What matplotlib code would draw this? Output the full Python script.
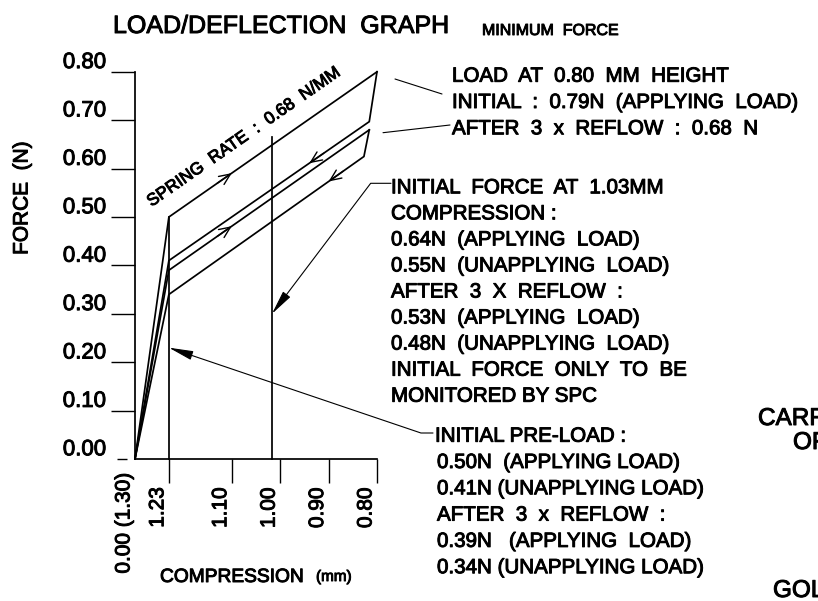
import numpy as np
import matplotlib.pyplot as plt
import matplotlib.patheffects as pe
from matplotlib.text import Text
from matplotlib.transforms import ScaledTranslation

plt.rcParams['font.family'] = ['Liberation Sans', 'DejaVu Sans']

W, H = 818, 601
PX = 484.0            # pixels per unit (mm or N), same on both axes
X0, Y0 = 135, 459     # pixel position of (1.30 mm, 0 N)

# axis ticks
force_ticks = [0.00, 0.10, 0.20, 0.30, 0.40, 0.50, 0.60, 0.70, 0.80]
comp_start = 1.30
comp_ticks = [1.23, 1.10, 1.00, 0.90, 0.80]

# load curves: compression (mm) vs force (N)
init_apply_x = [1.30, 1.23, 0.80]
init_apply_y = [0.00, 0.50, 0.80]
init_release_x = [0.80, 0.816, 1.23, 1.30]
init_release_y = [0.80, 0.697, 0.41, 0.00]
reflow_apply_x = [1.30, 1.23, 0.816]
reflow_apply_y = [0.00, 0.39, 0.68]
reflow_release_x = [0.816, 0.827, 1.23, 1.30]
reflow_release_y = [0.68, 0.625, 0.34, 0.00]

# reference verticals
preload_x, preload_top = 1.23, 0.50
check_x, check_top = 1.017, 0.665

# direction arrows: (curve, compression, travel)
arrow_marks = [
    ((init_apply_x, init_apply_y), 1.10, 'load'),
    ((init_release_x, init_release_y), 0.94, 'unload'),
    ((reflow_apply_x, reflow_apply_y), 1.10, 'load'),
    ((reflow_release_x, reflow_release_y), 0.90, 'unload'),
]

# leader targets
check_arrow_force = 0.30
preload_arrow_force = 0.23

block_load = ["LOAD  AT  0.80  MM  HEIGHT",
              "INITIAL  :  0.79N  (APPLYING  LOAD)",
              "AFTER  3  x  REFLOW  :  0.68  N"]
block_force = ["INITIAL  FORCE  AT  1.03MM",
               "COMPRESSION :",
               "0.64N  (APPLYING  LOAD)",
               "0.55N  (UNAPPLYING  LOAD)",
               "AFTER  3  X  REFLOW  :",
               "0.53N  (APPLYING  LOAD)",
               "0.48N  (UNAPPLYING  LOAD)",
               "INITIAL  FORCE  ONLY  TO  BE",
               "MONITORED BY SPC"]
block_preload = ["INITIAL PRE-LOAD :",
                 "0.50N  (APPLYING LOAD)",
                 "0.41N (UNAPPLYING LOAD)",
                 "AFTER  3  x  REFLOW  :",
                 "0.39N   (APPLYING  LOAD)",
                 "0.34N (UNAPPLYING LOAD)"]


def fp(x, y):
    # figure fraction from pixel position (top-left origin)
    return x / W, 1 - y / H


def on_curve(xs, ys, c):
    order = np.argsort(xs)
    return float(np.interp(c, np.asarray(xs)[order], np.asarray(ys)[order]))


fig = plt.figure(figsize=(W / 100, H / 100), dpi=100)
ax = fig.add_axes([0, 0, 1, 1])
ax.set_xlim(comp_start + X0 / PX, comp_start - (W - X0) / PX)
ax.set_ylim(-(H - Y0) / PX, Y0 / PX)
ax.patch.set_visible(False)

lw = 1.25
for xs, ys in [(init_apply_x, init_apply_y), (init_release_x, init_release_y),
               (reflow_apply_x, reflow_apply_y), (reflow_release_x, reflow_release_y)]:
    ax.plot(xs, ys, color='black', lw=lw, solid_joinstyle='miter')
ax.plot([preload_x, preload_x], [0, preload_top], color='black', lw=lw)
ax.plot([check_x, check_x], [0, check_top], color='black', lw=lw)

for (xs, ys), c, way in arrow_marks:
    back = c + 0.03 if way == 'load' else c - 0.03
    ax.annotate('', xy=(c, on_curve(xs, ys, c)), xytext=(back, on_curve(xs, ys, back)),
                arrowprops=dict(arrowstyle='->,head_length=0.8,head_width=0.35',
                                lw=1.0, color='black', shrinkA=0, shrinkB=0))

# axes
for s in ['top', 'right']:
    ax.spines[s].set_visible(False)
ax.spines['left'].set_position(('data', comp_start))
ax.spines['left'].set_bounds(0, max(force_ticks))
ax.spines['bottom'].set_position(('data', 0))
ax.spines['bottom'].set_bounds(min(comp_ticks), comp_start)
for s in ['left', 'bottom']:
    ax.spines[s].set_linewidth(lw)

ax.set_yticks(force_ticks)
ax.set_yticklabels([f"{v:.2f}" for v in force_ticks])
ax.tick_params(axis='y', direction='out', length=17.3, width=1.0, pad=3.5, labelsize=16)
for lab in ax.get_yticklabels():
    lab.set_va('baseline')
    lab.set_transform(lab.get_transform() + ScaledTranslation(0, 0.037, fig.dpi_scale_trans))
zero_tick = ax.yaxis.get_major_ticks()[0]
zero_tick.tick1line.set_markersize(7.2)
zero_tick.tick1line.set_transform(zero_tick.tick1line.get_transform()
                                  + ScaledTranslation(-0.08, 0, fig.dpi_scale_trans))

ax.set_xticks([comp_start] + comp_ticks)
ax.set_xticklabels(["0.00 (1.30)"] + [f"{v:.2f}" for v in comp_ticks],
                   rotation=90, va='top', ha='center', fontsize=15)
ax.tick_params(axis='x', direction='out', length=17.3, width=1.0, pad=3)
for i, lab in enumerate(ax.get_xticklabels()):
    dy = 0.15 if i == 0 else 0
    lab.set_transform(lab.get_transform() + ScaledTranslation(-0.11, dy, fig.dpi_scale_trans))
ax.xaxis.get_major_ticks()[0].tick1line.set_visible(False)

# titles and axis names
fig.text(*fp(113, 33), "LOAD/DEFLECTION  GRAPH", fontsize=18, va='baseline')
fig.text(*fp(482, 35), "MINIMUM  FORCE", fontsize=11.5, va='baseline')
fig.text(*fp(22, 198), "FORCE  (N)", fontsize=15, rotation=90, ha='center', va='center')
fig.text(*fp(160, 582), "COMPRESSION", fontsize=13.8, va='baseline')
fig.text(*fp(316, 581), "(mm)", fontsize=11, va='baseline')

slope = np.degrees(np.arctan2(init_apply_y[2] - init_apply_y[1], init_apply_x[1] - init_apply_x[2]))
fig.text(*fp(244, 137), "SPRING  RATE  :  0.68  N/MM", fontsize=12.3, rotation=slope,
         rotation_mode='anchor', ha='center', va='center')

# annotation blocks
for i, s in enumerate(block_load):
    fig.text(*fp(452, 81.7 + 26.3 * i), s, fontsize=14.8, va='baseline')
for i, s in enumerate(block_force):
    fig.text(*fp(391, 193.3 + 26.05 * i), s, fontsize=14.8, va='baseline')
for i, s in enumerate(block_preload):
    fig.text(*fp(435 if i == 0 else 437, 441.7 + 26.3 * i), s, fontsize=14.8, va='baseline')

# clipped labels from the surrounding drawing
fig.text(*fp(758, 425), "CARR", fontsize=17.5, va='baseline')
fig.text(*fp(793, 449), "OF", fontsize=17.5, va='baseline')
fig.text(*fp(773, 597), "GOL", fontsize=17.5, va='baseline')

# leader lines
thin = dict(arrowstyle='-', lw=0.8, color='black', shrinkA=0, shrinkB=0)
ax.annotate('', xy=(442, H - 94), xycoords='figure pixels',
            xytext=(395, H - 79), textcoords='figure pixels', arrowprops=thin)
ax.annotate('', xy=(450, H - 125), xycoords='figure pixels',
            xytext=(383, H - 132.7), textcoords='figure pixels', arrowprops=thin)

head = '-|>,head_length=1.5,head_width=0.28'
ax.annotate('', xy=(check_x, check_arrow_force), xytext=(391, H - 183.3),
            textcoords='figure pixels',
            arrowprops=dict(arrowstyle=head, lw=0.8, color='black', shrinkA=0, shrinkB=0,
                            connectionstyle='angle,angleA=0,angleB=52.9,rad=0'))
ax.annotate('', xy=(preload_x, preload_arrow_force), xytext=(433, H - 433),
            textcoords='figure pixels',
            arrowprops=dict(arrowstyle=head, lw=0.8, color='black', shrinkA=0, shrinkB=0,
                            connectionstyle='angle,angleA=0,angleB=-18.7,rad=0'))

# heavier CAD-like strokes for all text
bold = [pe.withStroke(linewidth=0.7, foreground='black')]
for t in fig.findobj(Text):
    t.set_path_effects(bold)

fig.savefig('out.png', dpi=100, facecolor='white')
